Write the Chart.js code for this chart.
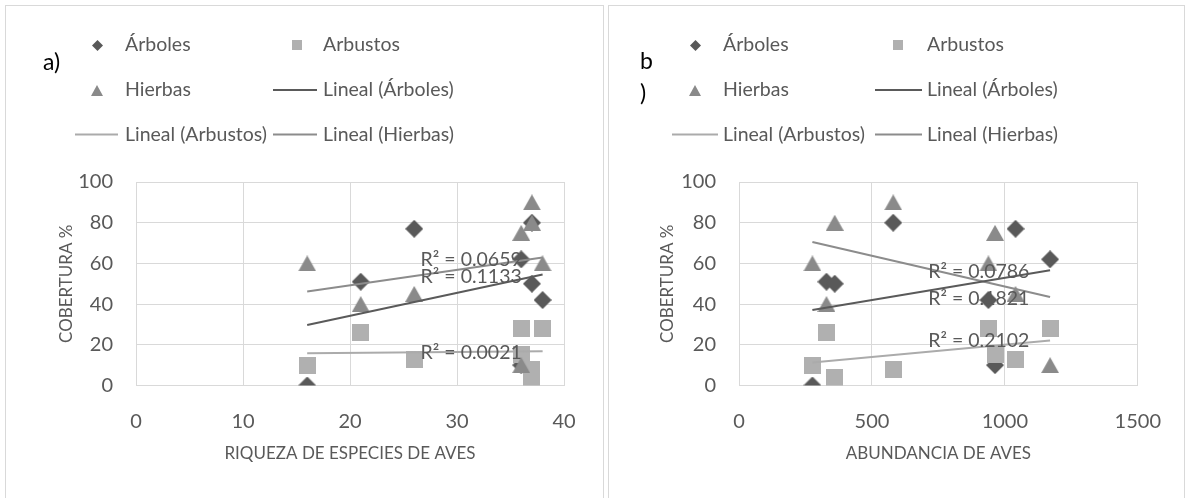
<!DOCTYPE html>
<html>
<head>
<meta charset="utf-8">
<script src="https://cdn.jsdelivr.net/npm/chart.js@4.4.0/dist/chart.umd.min.js"></script>
<style>
  html, body { margin: 0; padding: 0; background: #ffffff; }
  #wrap { position: relative; width: 1185px; height: 498px; overflow: hidden; }
  .panel { position: absolute; top: 5px; height: 530px; border: 1px solid #d9d9d9; box-sizing: border-box; }
  canvas { position: absolute; top: 0; }
</style>
</head>
<body>
<div id="wrap">
  <div class="panel" style="left:5px;width:599px"></div>
  <div class="panel" style="left:608px;width:577px"></div>
  <canvas id="chartA" width="603" height="498" style="left:0"></canvas>
  <canvas id="chartB" width="582" height="498" style="left:603px"></canvas>
</div>
<script>
// Eight sampling sites: bird richness / abundance vs. vegetation cover (%)
const riqueza    = [16, 21, 37, 37, 38, 36, 26, 36];
const abundancia = [276, 329, 360, 580, 938, 963, 1040, 1170];
const arboles    = [0, 51, 50, 80, 42, 10, 77, 62];
const arbustos   = [10, 26, 4, 8, 28, 15, 13, 28];
const hierbas    = [60, 40, 80, 90, 60, 75, 45, 10];

const seriesNames = ['Árboles', 'Arbustos', 'Hierbas'];
const trendNames  = ['Lineal (Árboles)', 'Lineal (Arbustos)', 'Lineal (Hierbas)'];

// R² of each linear trend (Árboles, Arbustos, Hierbas)
const r2Riqueza    = ['R² = 0.1133', 'R² = 0.0021', 'R² = 0.0659'];
const r2Abundancia = ['R² = 0.0786', 'R² = 0.2102', 'R² = 0.1821'];

const yTicks = [0, 20, 40, 60, 80, 100];
const xTicksRiqueza = [0, 10, 20, 30, 40];
const xTicksAbundancia = [0, 500, 1000, 1500];

const FONT = 'Lato';
const TXT = '#595959';
const markerColor = ['#595959', '#b0b0b0', '#8a8a8a'];
const lineColor   = ['#5a5a5a', '#ababab', '#8c8c8c'];

function marker(kind, w, h, color) {
  const c = document.createElement('canvas');
  c.width = w; c.height = h;
  const g = c.getContext('2d');
  g.fillStyle = color;
  g.beginPath();
  if (kind === 'diamond') {
    g.moveTo(w / 2, 0); g.lineTo(w, h / 2); g.lineTo(w / 2, h); g.lineTo(0, h / 2);
  } else if (kind === 'square') {
    g.rect(0, 0, w, h);
  } else {
    g.moveTo(w / 2, 0); g.lineTo(w, h); g.lineTo(0, h);
  }
  g.closePath();
  g.fill();
  return c;
}

const bigMarkers = [
  marker('diamond', 18, 18, markerColor[0]),
  marker('square', 17, 17, markerColor[1]),
  marker('triangle', 18, 16, markerColor[2])
];
const smallMarkers = [
  marker('diamond', 11, 11, markerColor[0]),
  marker('square', 10, 10, markerColor[1]),
  marker('triangle', 12, 11, markerColor[2])
];

// ordinary least squares line across the range of x
function linearFit(xs, ys) {
  const n = xs.length;
  const mx = xs.reduce((a, b) => a + b, 0) / n;
  const my = ys.reduce((a, b) => a + b, 0) / n;
  let sxy = 0, sxx = 0;
  for (let i = 0; i < n; i++) { sxy += (xs[i] - mx) * (ys[i] - my); sxx += (xs[i] - mx) ** 2; }
  const b = sxy / sxx, a = my - b * mx;
  const x0 = Math.min(...xs), x1 = Math.max(...xs);
  return [{ x: x0, y: a + b * x0 }, { x: x1, y: a + b * x1 }];
}

const pts = (xs, ys) => xs.map((x, i) => ({ x: x, y: ys[i] }));

function buildDatasets(xs) {
  const ys = [arboles, arbustos, hierbas];
  const ds = [];
  // scatter series: Hierbas on top, then Arbustos, then Árboles
  ys.forEach((y, i) => {
    ds.push({
      label: seriesNames[i],
      data: pts(xs, y),
      pointStyle: bigMarkers[i],
      showLine: false,
      order: 5 - i
    });
  });
  // linear trend lines drawn above the markers
  ys.forEach((y, i) => {
    ds.push({
      label: trendNames[i],
      data: linearFit(xs, y),
      showLine: true,
      borderColor: lineColor[i],
      borderWidth: 2,
      pointRadius: 0,
      order: i
    });
  });
  return ds;
}

// legend, panel letter and R² labels drawn onto the canvas
const panelDecor = {
  id: 'panelDecor',
  afterDatasetsDraw(chart, args, opts) {
    const ctx = chart.ctx;
    const L = opts.legend;
    ctx.save();
    ctx.textBaseline = 'middle';
    ctx.textAlign = 'left';
    ctx.font = opts.legendFont;
    ctx.fillStyle = TXT;
    // markers
    const mk = [[L.c1m, L.r1, 0], [L.c2m, L.r1, 1], [L.c1m, L.r2, 2]];
    mk.forEach(([x, y, i]) => {
      const m = smallMarkers[i];
      ctx.drawImage(m, Math.round(x - m.width / 2), Math.round(y - m.height / 2));
    });
    ctx.fillText(seriesNames[0], L.c1t, L.r1);
    ctx.fillText(seriesNames[1], L.c2t, L.r1);
    ctx.fillText(seriesNames[2], L.c1t, L.r2);
    // line swatches
    const sw = [[L.c2l0, L.c2l1, L.r2, 0, L.c2t], [L.c1l0, L.c1l1, L.r3, 1, L.c1t], [L.c2l0, L.c2l1, L.r3, 2, L.c2t]];
    sw.forEach(([x0, x1, y, i, tx]) => {
      ctx.strokeStyle = lineColor[i];
      ctx.lineWidth = 2;
      ctx.beginPath();
      ctx.moveTo(x0, y); ctx.lineTo(x1, y);
      ctx.stroke();
      ctx.fillText(trendNames[i], tx, y);
    });
    // R² labels anchored in data units
    ctx.font = opts.r2Font;
    ctx.fillStyle = TXT;
    const xs = chart.scales.x, ys = chart.scales.y;
    opts.r2.forEach((t, i) => {
      const p = opts.r2At[i];
      ctx.fillText(t, xs.getPixelForValue(p[0]), ys.getPixelForValue(p[1]));
    });
    // panel letter
    ctx.font = opts.letterFont;
    ctx.fillStyle = '#000000';
    opts.letter.forEach(([t, x, y]) => ctx.fillText(t, x, y));
    ctx.restore();
  }
};

function makeChart(id, xs, xTicks, xTitle, layoutPad, r2, r2At, legend, letter) {
  return new Chart(document.getElementById(id), {
    type: 'scatter',
    data: { datasets: buildDatasets(xs) },
    plugins: [panelDecor],
    options: {
      responsive: false,
      animation: false,
      events: [],
      layout: { padding: layoutPad },
      plugins: {
        legend: { display: false },
        tooltip: { enabled: false },
        panelDecor: {
          legend: legend,
          legendFont: '19.5px ' + FONT,
          r2Font: '19.5px ' + FONT,
          letterFont: '23px ' + FONT,
          r2: r2,
          r2At: r2At,
          letter: letter
        }
      },
      scales: {
        x: {
          type: 'linear', min: xTicks[0], max: xTicks[xTicks.length - 1],
          afterBuildTicks(s) { s.ticks = xTicks.map(v => ({ value: v })); },
          ticks: { color: TXT, font: { family: FONT, size: 20 }, padding: 24, callback: v => String(v) },
          grid: { color: '#d9d9d9', lineWidth: 1, drawTicks: false },
          border: { display: false },
          title: { display: true, text: xTitle, color: TXT, font: { family: FONT, size: 17 }, padding: { top: 0, bottom: 2 } },
          afterFit(s) { s.height = 80.5; }
        },
        y: {
          type: 'linear', min: yTicks[0], max: yTicks[yTicks.length - 1],
          afterBuildTicks(s) { s.ticks = yTicks.map(v => ({ value: v })); },
          ticks: { color: TXT, font: { family: FONT, size: 20 }, padding: 23, callback: v => String(v) },
          grid: { color: '#d9d9d9', lineWidth: 1, drawTicks: false },
          border: { display: false },
          title: { display: true, text: 'COBERTURA %', color: TXT, font: { family: FONT, size: 17 }, padding: { top: layoutPad.titleTop, bottom: 0 } },
          afterFit(s) { s.width = 96; }
        }
      }
    }
  });
}

function draw() {
  makeChart('chartA', riqueza, xTicksRiqueza, 'RIQUEZA DE ESPECIES DE AVES',
    { left: 40, top: 182, right: 39, bottom: 32, titleTop: 16 },
    r2Riqueza,
    [[26.6, 53.7], [26.6, 16.0], [26.6, 62.0]],
    { r1: 45, r2: 90, r3: 134.5, c1m: 97, c1t: 125, c2m: 297, c2t: 323, c1l0: 75, c1l1: 118, c2l0: 273, c2l1: 317 },
    [['a)', 43, 63]]);
  makeChart('chartB', abundancia, xTicksAbundancia, 'ABUNDANCIA DE AVES',
    { left: 40, top: 182, right: 47, bottom: 32, titleTop: 14 },
    r2Abundancia,
    [[711.6, 56.1], [711.6, 21.8], [711.6, 42.7]],
    { r1: 45, r2: 90, r3: 134.5, c1m: 92, c1t: 120, c2m: 295, c2t: 324, c1l0: 69, c1l1: 115, c2l0: 272, c2l1: 319 },
    [['b', 37, 62], [')', 37, 94]]);
}

if (document.fonts && document.fonts.load) {
  Promise.all([document.fonts.load('18px Lato'), document.fonts.load('20px Lato')]).then(draw, draw);
} else {
  draw();
}
</script>
</body>
</html>
